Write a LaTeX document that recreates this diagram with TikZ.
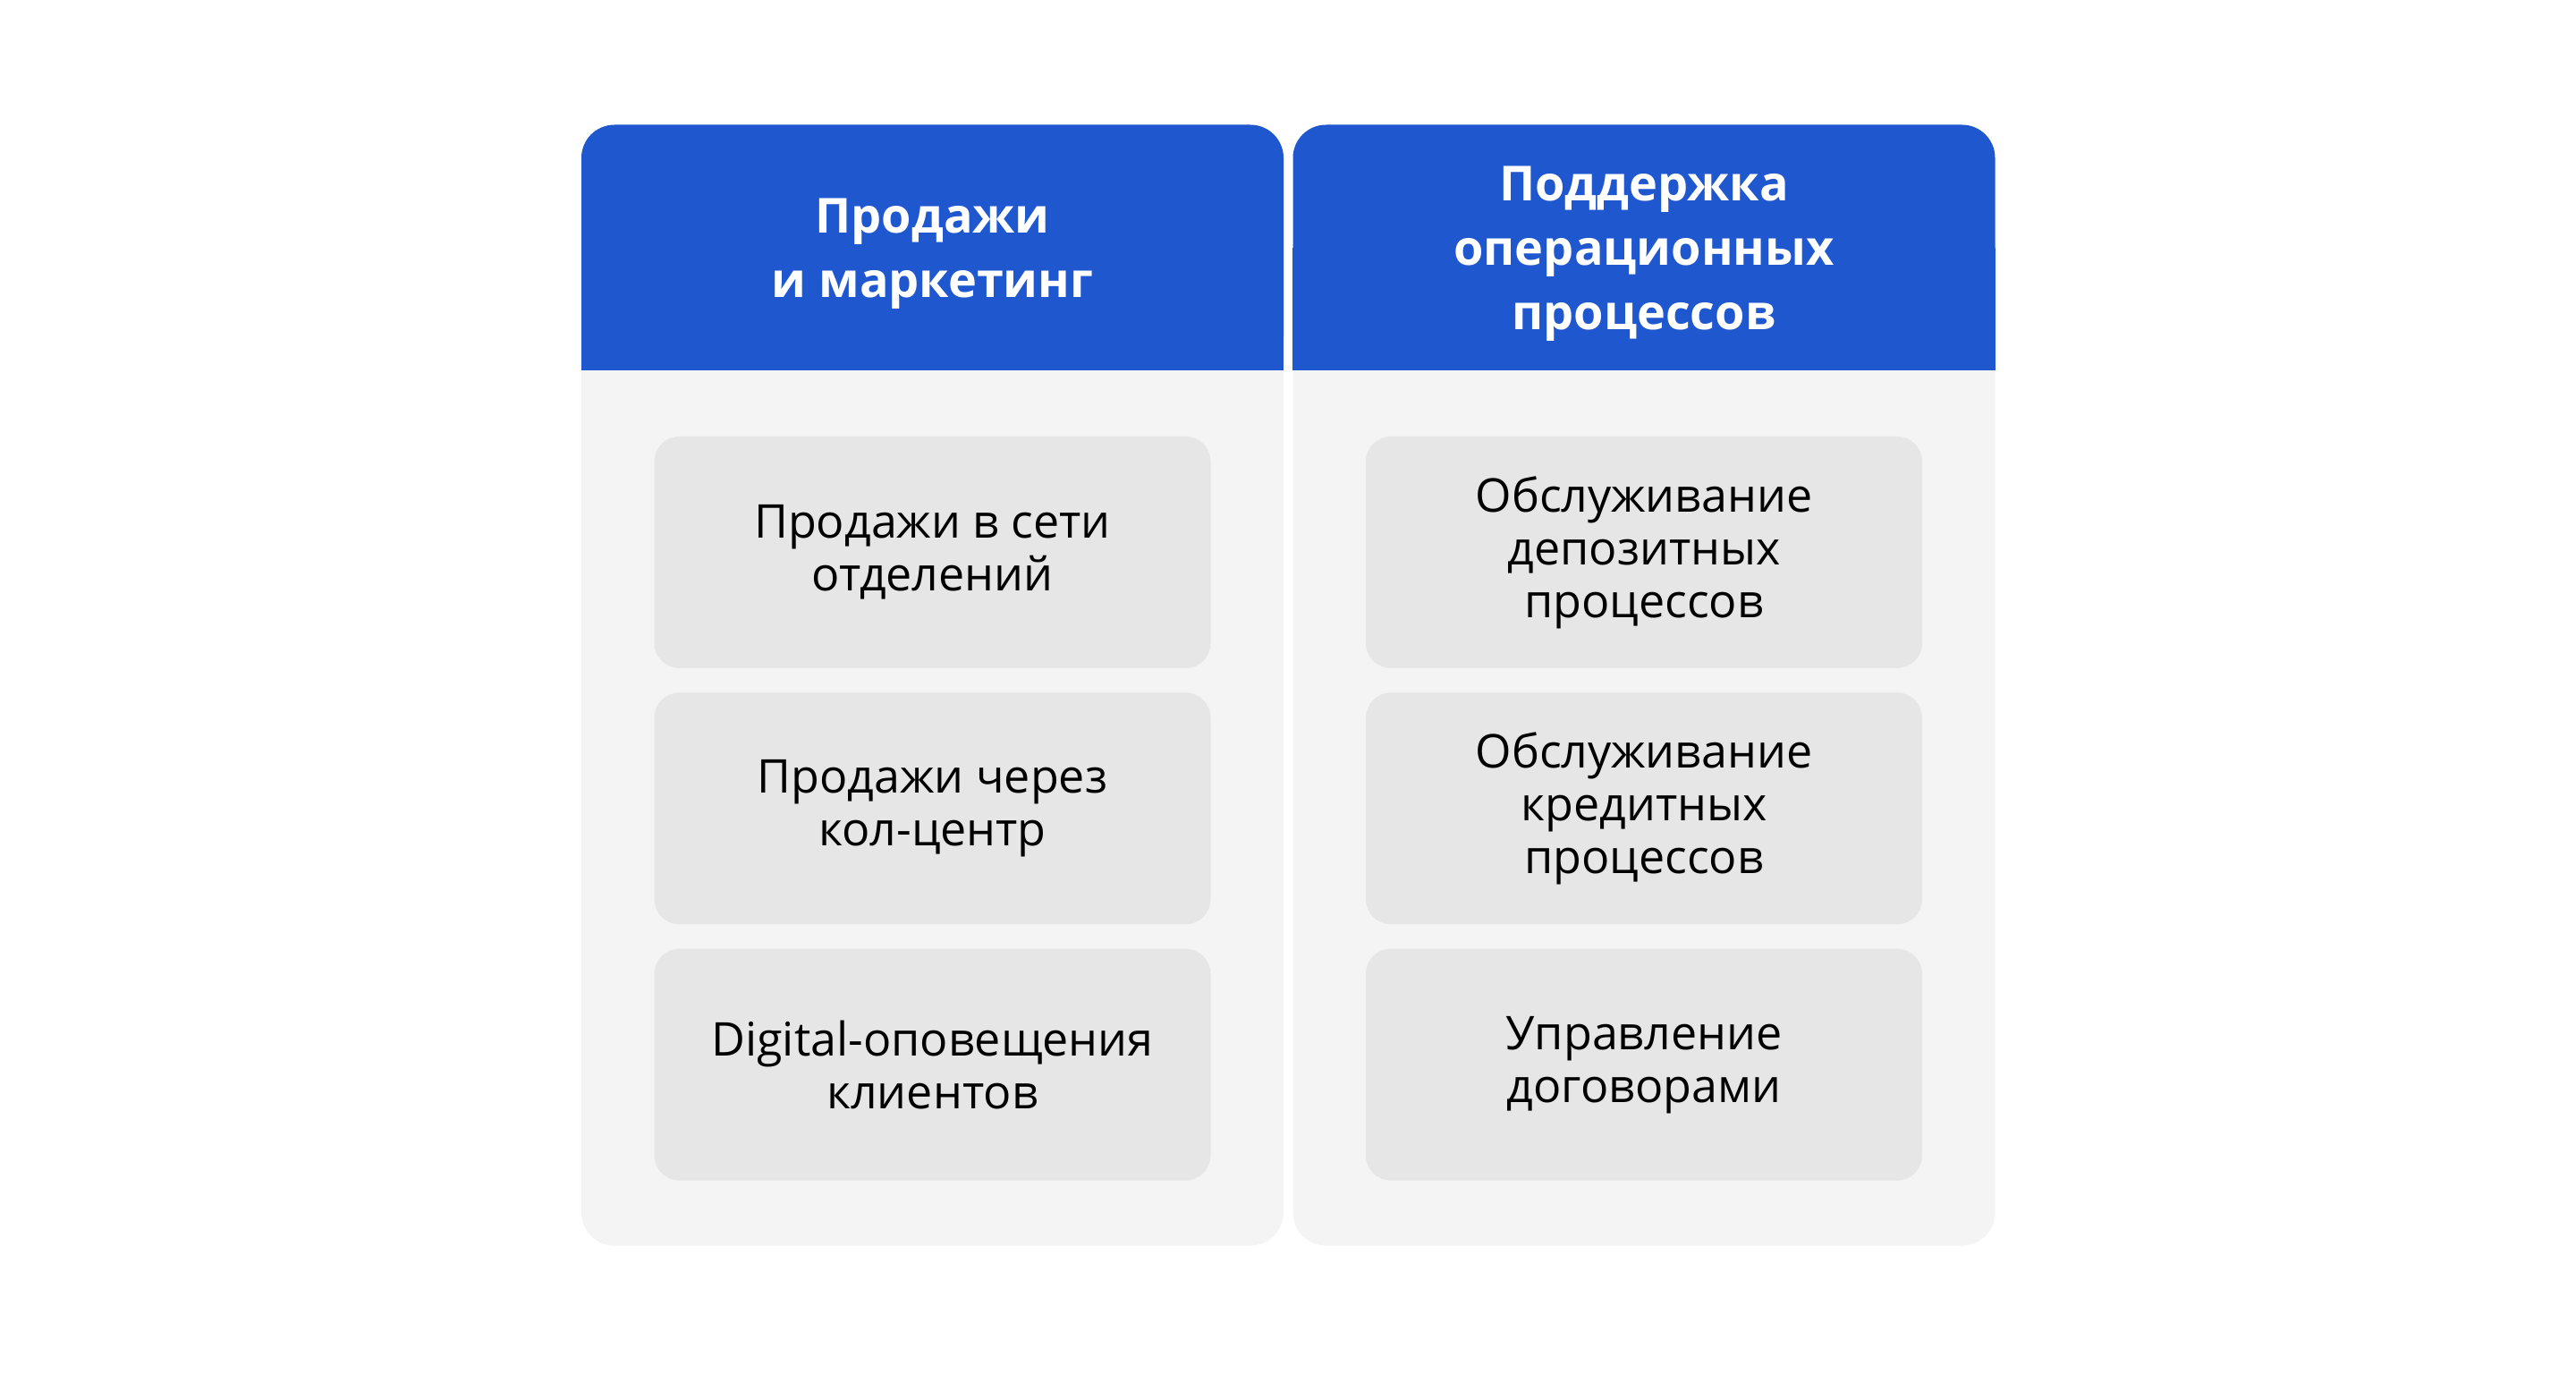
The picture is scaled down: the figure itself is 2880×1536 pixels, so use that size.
\documentclass[tikz,border=0pt]{standalone}
\usepackage{fontspec}
\setmainfont{Open Sans}
\usetikzlibrary{positioning}
\definecolor{headblue}{RGB}{31,87,206}
\definecolor{panelgray}{RGB}{244,244,244}
\definecolor{boxgray}{RGB}{230,230,230}
\begin{document}
\begin{tikzpicture}[x=1pt,y=-1pt,line join=round,
panel/.style={fill=panelgray,rounded corners=37pt,minimum width=785pt,minimum height=1253pt,inner sep=0pt},
headbox/.style={fill=headblue,rounded corners=37pt,minimum width=785pt,minimum height=274pt,inner sep=0pt},
headtext/.style={text=white,align=center,yshift=-7pt,font=\fontsize{54}{72}\selectfont\bfseries},
itembox/.style={fill=boxgray,rounded corners=28pt,minimum width=622pt,minimum height=259pt,inner sep=0pt,align=center,font=\fontsize{52}{59}\selectfont}]
\useasboundingbox (0,0) rectangle (2880,1536);
\path
(1042.5,766) coordinate (L)
(1838,766) coordinate (R)
;
% panels
\node[panel] (sales) at (L) {};
\node[panel] (ops) at (R) {};
\node[headbox,below=0pt of sales.north] (salesHead) {};
\node[headbox,below=0pt of ops.north] (opsHead) {};
\foreach \h in {salesHead,opsHead}
{\fill[headblue] (\h.west) rectangle (\h.south east);}
\node[headtext] (salesTitle) at (salesHead) {Продажи\\и маркетинг};
\node[headtext] (opsTitle) at (opsHead) {Поддержка\\операционных\\процессов};
% left column
\node[itembox,below=74pt of salesHead] (branch) {Продажи в сети\\отделений};
\node[itembox,below=27pt of branch] (callc) {Продажи через\\кол-центр};
\node[itembox,below=27pt of callc] (digital) {Digital-оповещения\\клиентов};
% right column
\node[itembox,below=74pt of opsHead] (deposit) {Обслуживание\\депозитных\\процессов};
\node[itembox,below=27pt of deposit] (credit) {Обслуживание\\кредитных\\процессов};
\node[itembox,below=27pt of credit] (contract) {Управление\\договорами};
\end{tikzpicture}
\end{document}
